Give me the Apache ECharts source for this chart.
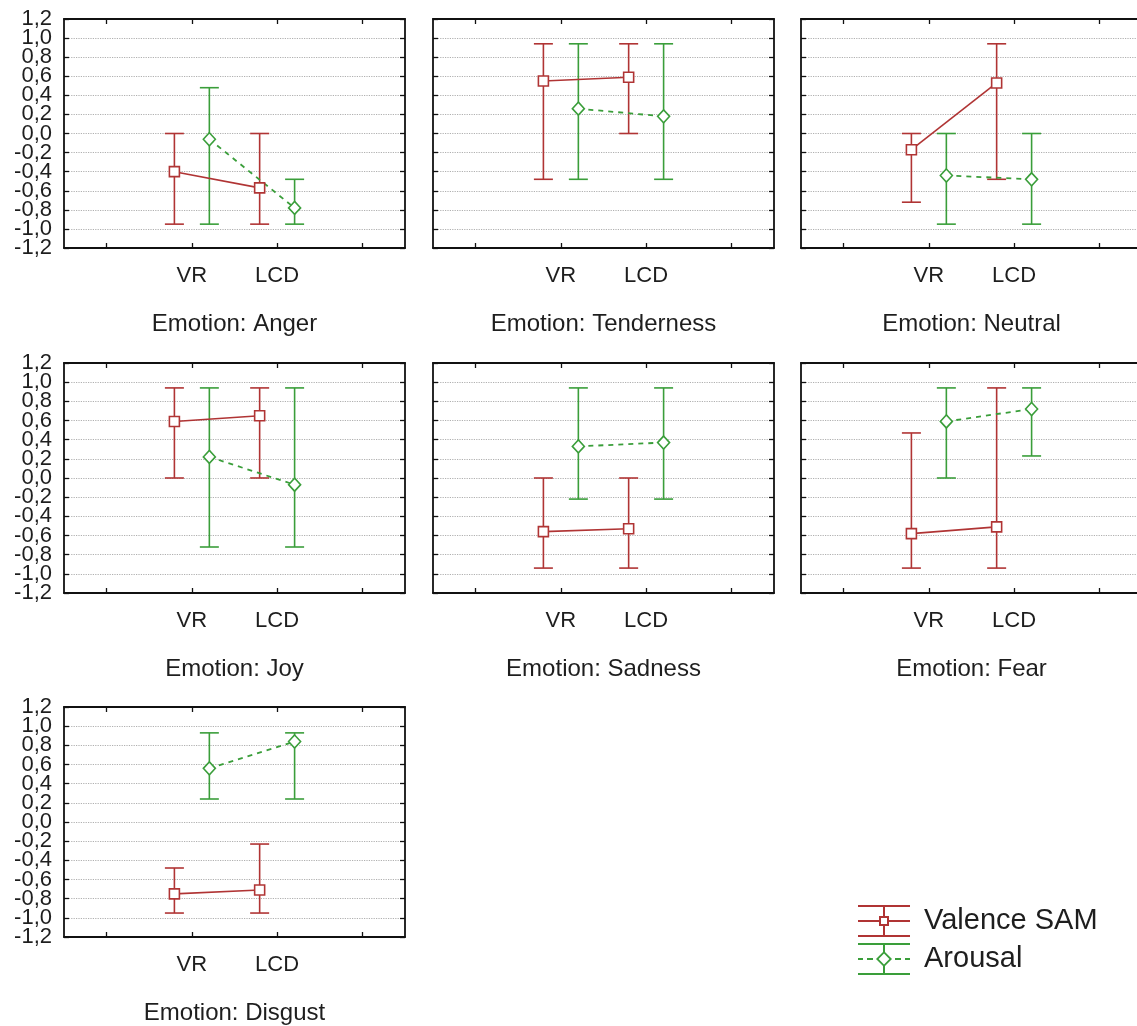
<!DOCTYPE html>
<html>
<head>
<meta charset="utf-8">
<script src="https://cdn.jsdelivr.net/npm/echarts@6/dist/echarts.min.js"></script>
<style>
html,body{margin:0;padding:0;background:#fff;}
#chart{width:1137px;height:1026px;}
</style>
</head>
<body>
<div id="chart"></div>
<script>
// ---- data ----
const categories = ['VR', 'LCD'];
const emotions = ['Anger', 'Tenderness', 'Neutral', 'Joy', 'Sadness', 'Fear', 'Disgust'];
const seriesNames = ['Valence SAM', 'Arousal'];
const valenceMean = [[-0.40, -0.57], [0.55, 0.59], [-0.17, 0.53], [0.59, 0.65], [-0.56, -0.53], [-0.58, -0.51], [-0.75, -0.71]];
const valenceLow  = [[-0.95, -0.95], [-0.48, 0.00], [-0.72, -0.48], [0.00, 0.00], [-0.94, -0.94], [-0.94, -0.94], [-0.95, -0.95]];
const valenceHigh = [[0.00, 0.00], [0.94, 0.94], [0.00, 0.94], [0.94, 0.94], [0.00, 0.00], [0.47, 0.94], [-0.48, -0.23]];
const arousalMean = [[-0.06, -0.78], [0.26, 0.18], [-0.44, -0.48], [0.22, -0.07], [0.33, 0.37], [0.59, 0.72], [0.56, 0.84]];
const arousalLow  = [[-0.95, -0.95], [-0.48, -0.48], [-0.95, -0.95], [-0.72, -0.72], [-0.22, -0.22], [0.00, 0.23], [0.24, 0.24]];
const arousalHigh = [[0.48, -0.48], [0.94, 0.94], [0.00, 0.00], [0.94, 0.94], [0.94, 0.94], [0.94, 0.94], [0.93, 0.93]];
const yMin = -1.2, yMax = 1.2, yStep = 0.2;

// ---- layout / style ----
const RED = '#b03434';
const GREEN = '#3a9e3a';
const colLeft = [64, 433, 801];
const rowTop = [19, 363, 707];
const boxW = 341, boxH = 230;
const OFF = 0.205;
const FONT = 'Liberation Sans, Arial, Helvetica, sans-serif';

const chart = echarts.init(document.getElementById('chart'), null, {renderer: 'canvas'});

const grids = [], xAxes = [], yAxes = [], series = [], titles = [];
const axisCats = [''].concat(categories).concat(['']);

function fmtY(v) { return (Math.round(v * 10) / 10).toFixed(1).replace('.', ','); }
function tickParity(v) { return Math.round((v - yMin) / yStep) % 2; }

function errorBarRender(color) {
  return function (params, api) {
    const x = api.value(0), lo = api.value(1), hi = api.value(2);
    const pLo = api.coord([x, lo]), pHi = api.coord([x, hi]);
    const hw = 9.5;
    const st = {stroke: color, lineWidth: 1.6};
    return {
      type: 'group',
      children: [
        {type: 'line', shape: {x1: pLo[0], y1: pLo[1], x2: pHi[0], y2: pHi[1]}, style: st},
        {type: 'line', shape: {x1: pHi[0] - hw, y1: pHi[1], x2: pHi[0] + hw, y2: pHi[1]}, style: st},
        {type: 'line', shape: {x1: pLo[0] - hw, y1: pLo[1], x2: pLo[0] + hw, y2: pLo[1]}, style: st}
      ]
    };
  };
}

emotions.forEach(function (emo, i) {
  const col = i % 3, row = Math.floor(i / 3);
  const top = rowTop[row], left = colLeft[col];
  const h = row === 0 ? 229 : boxH;
  grids.push({left: left, top: top, width: boxW, height: h, containLabel: false, outerBoundsMode: 'none', show: false});

  const axLine = {show: true, onZero: false, lineStyle: {color: '#111', width: 1.8}};
  const tick = {show: true, inside: true, length: 5, alignWithLabel: true, interval: 0, lineStyle: {color: '#111', width: 1.3}};
  xAxes.push({
    type: 'category', gridIndex: i, data: axisCats, position: 'bottom', boundaryGap: true,
    axisLine: axLine, axisTick: tick,
    axisLabel: {interval: 0, fontSize: 22, color: '#1e1e1e', fontFamily: FONT, margin: 17},
    splitLine: {show: false}
  });
  xAxes.push({
    type: 'category', gridIndex: i, data: axisCats, position: 'top', boundaryGap: true,
    axisLine: axLine, axisTick: tick, axisLabel: {show: false}, splitLine: {show: false}
  });
  xAxes.push({type: 'value', gridIndex: i, min: -0.5, max: 3.5, show: false,
    axisLine: {show: false, onZero: false}});

  const ytick = {show: true, inside: true, length: 5, lineStyle: {color: '#111', width: 1.3}};
  const lblBase = {show: col === 0, fontSize: 22, color: '#1e1e1e', fontFamily: FONT, margin: 12,
    showMinLabel: true, showMaxLabel: true, hideOverlap: false};
  // main left axis: line, ticks, grid, even labels
  yAxes.push({
    type: 'value', gridIndex: i, min: yMin, max: yMax, interval: yStep, position: 'left',
    axisLine: axLine, axisTick: ytick,
    axisLabel: Object.assign({}, lblBase, {formatter: function (v) { return tickParity(v) === 0 ? fmtY(v) : ''; }}),
    splitLine: {show: true, lineStyle: {color: '#b0b0b0', type: 'dotted', width: 1.2}}
  });
  // second left axis: odd labels only
  yAxes.push({
    type: 'value', gridIndex: i, min: yMin, max: yMax, interval: yStep, position: 'left', offset: 0,
    axisLine: {show: false, onZero: false}, axisTick: {show: false},
    axisLabel: Object.assign({}, lblBase, {formatter: function (v) { return tickParity(v) === 1 ? fmtY(v) : ''; }}),
    splitLine: {show: false}
  });
  // right mirror axis
  yAxes.push({
    type: 'value', gridIndex: i, min: yMin, max: yMax, interval: yStep, position: 'right',
    axisLine: axLine, axisTick: ytick, axisLabel: {show: false}, splitLine: {show: false}
  });

  const xv = 3 * i + 2, yv = 3 * i;
  const vErr = categories.map(function (c, k) { return [k + 1 - OFF, valenceLow[i][k], valenceHigh[i][k]]; });
  const aErr = categories.map(function (c, k) { return [k + 1 + OFF, arousalLow[i][k], arousalHigh[i][k]]; });
  const vPts = categories.map(function (c, k) { return [k + 1 - OFF, valenceMean[i][k]]; });
  const aPts = categories.map(function (c, k) { return [k + 1 + OFF, arousalMean[i][k]]; });

  series.push({type: 'custom', xAxisIndex: xv, yAxisIndex: yv, renderItem: errorBarRender(RED), data: vErr, z: 3, silent: true, encode: {x: 0, y: [1, 2]}});
  series.push({type: 'custom', xAxisIndex: xv, yAxisIndex: yv, renderItem: errorBarRender(GREEN), data: aErr, z: 3, silent: true, encode: {x: 0, y: [1, 2]}});
  series.push({
    name: seriesNames[0], type: 'line', xAxisIndex: xv, yAxisIndex: yv, data: vPts, z: 5,
    symbol: 'rect', symbolSize: 10, showAllSymbol: true,
    lineStyle: {color: RED, width: 1.6},
    itemStyle: {color: '#fff', borderColor: RED, borderWidth: 1.6},
    emphasis: {disabled: true}, animation: false
  });
  series.push({
    name: seriesNames[1], type: 'line', xAxisIndex: xv, yAxisIndex: yv, data: aPts, z: 5,
    symbol: 'diamond', symbolSize: [12, 13], showAllSymbol: true,
    lineStyle: {color: GREEN, width: 1.8, type: [5, 5]},
    itemStyle: {color: '#fff', borderColor: GREEN, borderWidth: 1.6},
    emphasis: {disabled: true}, animation: false
  });

  titles.push({
    text: 'Emotion: ' + emo, left: left + boxW / 2, top: top + h + 64, textAlign: 'center', padding: 0,
    textStyle: {fontSize: 24, fontWeight: 'normal', color: '#1e1e1e', fontFamily: FONT}
  });
});

const iconValence = 'path://M0 0H52V2H0Z M0 30H52V32H0Z M0 15H21V17H0Z M31 15H52V17H31Z M25 2H27V11H25Z M25 21H27V30H25Z M21 11H31V21H21Z M23 13V19H29V13Z';
const iconArousal = 'path://M0 0H52V2H0Z M0 30H52V32H0Z M0 15H5V17H0Z M9 15H15V17H9Z M37 15H43V17H37Z M47 15H52V17H47Z M25 2H27V9.5H25Z M25 22.5H27V30H25Z M26 8L34 16L26 24L18 16Z M26 10.6L20.6 16L26 21.4L31.4 16Z';

const option = {
  backgroundColor: '#fff',
  animation: false,
  title: titles,
  grid: grids,
  xAxis: xAxes,
  yAxis: yAxes,
  series: series,
  legend: {
    orient: 'vertical', left: 858, top: 905, padding: 0,
    itemWidth: 52, itemHeight: 32, itemGap: 6, selectedMode: false,
    textStyle: {fontSize: 29, color: '#1e1e1e', fontFamily: FONT, padding: [0, 0, 0, 9]},
    data: [
      {name: seriesNames[0], icon: iconValence, itemStyle: {color: RED, borderWidth: 0}},
      {name: seriesNames[1], icon: iconArousal, itemStyle: {color: GREEN, borderWidth: 0}}
    ]
  }
};
chart.setOption(option);
</script>
</body>
</html>
